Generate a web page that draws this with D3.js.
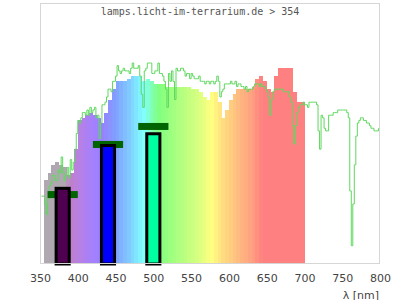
<!DOCTYPE html>
<html>
<head>
<meta charset="utf-8">
<title>lamps 354</title>
<style>
  body { margin: 0; background: #fff; }
  svg { display: block; }
</style>
</head>
<body>
<script src="https://d3js.org/d3.v7.min.js"></script>
<script>
// x axis ticks (nm)
var xTicks = [350, 400, 450, 500, 550, 600, 650, 700, 750, 800];

// lamp spectrum, 5 nm bins starting at each wavelength (relative %)
var lampWl = [355,360,365,370,375,380,385,390,395,400,405,410,415,420,425,430,435,440,445,450,
  455,460,465,470,475,480,485,490,495,500,505,510,515,520,525,530,535,540,545,550,
  555,560,565,570,575,580,585,590,595,600,605,610,615,620,625,630,635,640,645,650,
  655,660,665,670,675,680,685,690,695];
var lampVal = [32,35,38,39,38,37,34,35,44,55,56,57,58,57,56,54,58,63,67,70,
  70,70,71,72,72,72,70,71,70,69,69,69,68,68,68,68,68,68,68,67,
  67,66,64,63,66,66,62,56,59,63,65,67,67,67,67,68,71,72,70,67,
  66,72,75,75,75,75,66,62,62];

// reference daylight spectrum, 2 nm steps from 352 nm (relative %)
var sunStart = 352, sunStep = 2;
var sunVal = [26,26,23,19,25,30,31,34,34,32,32,36,35,41,35,32,34,37,33,40,
  36,39,44,50,55,54,56,58,58,57,59,57,60,58,59,60,56,57,48,54,
  61,61,62,64,67,67,66,70,70,72,76,74,73,74,75,74,74,74,73,75,
  77,75,75,75,76,72,65,60,74,75,77,77,77,73,73,74,74,77,73,73,
  72,70,67,60,73,70,74,70,63,75,74,74,75,75,74,72,73,73,71,73,
  72,71,71,71,72,70,70,70,69,70,70,69,70,70,69,70,72,70,64,66,
  67,69,69,69,69,70,69,69,70,68,69,69,68,68,67,68,66,67,67,67,
  68,69,69,69,68,69,68,68,67,66,64,57,63,66,67,67,67,67,67,67,
  66,66,66,66,64,62,53,46,53,58,60,61,61,62,61,61,60,62,62,62,
  62,62,61,51,44,57,56,52,51,51,57,57,57,58,58,58,59,59,59,59,
  59,59,58,56,28,7,23,38,49,54,55,56,56,55,55,54,54,53,52,52,
  51,51,51,52];

// LED channels: band [from, to] nm, bar height and target marker (relative %)
var ledFrom   = [370, 430, 490];
var ledTo     = [390, 450, 510];
var ledVal    = [29.0, 45.4, 49.9];
var ledTarget = [26.6, 45.8, 52.7];
var ledColor  = ['#500050', '#0000ff', '#00ffa0'];

var w = 400, h = 300;
var svg = d3.select('body').append('svg')
  .attr('width', w)
  .attr('height', h);

var x = d3.scaleLinear().domain([350, 800]).range([40, 380]);
var y = d3.scaleLinear().domain([0, 100]).range([264, 3]);

// pastel rainbow for the lamp bins
var spec = d3.scaleLinear()
  .domain([355, 384, 390, 400, 420, 432, 450, 470, 487, 495, 507, 530, 560, 577, 590, 610, 630, 645, 700])
  .range(['#b0a8b0','#b0a8b0','#c080c8','#b880e0','#a480ff','#9880ff','#80a0ff','#80d0ff','#80ffff','#80ffc8','#80ff80','#a8ff80','#d8ff80','#ffff80','#ffe080','#ffc080','#ffa080','#ff8080','#ff8080'])
  .clamp(true);

var lamp = lampWl.map(function(d, i) { return { wl: d, v: lampVal[i] }; });
svg.append('g').selectAll('rect')
  .data(lamp)
  .enter()
  .append('rect')
  .attr('x', d => x(d.wl))
  .attr('width', d => x(d.wl + 5) - x(d.wl) + 0.3)
  .attr('y', d => y(d.v))
  .attr('height', d => y(0) - y(d.v))
  .attr('fill', d => spec(d.wl + 2.5))
  .attr('shape-rendering', 'crispEdges');

var sun = sunVal.map(function(v, i) { return { wl: sunStart + i * sunStep, v: v }; });
svg.append('path')
  .datum(sun)
  .attr('fill', 'none')
  .attr('stroke', '#5fd85f')
  .attr('stroke-width', 1)
  .attr('d', d3.line().x(d => x(d.wl)).y(d => y(d.v)).curve(d3.curveStepAfter));

var leds = ledFrom.map(function(f, i) {
  return { from: f, to: ledTo[i], v: ledVal[i], t: ledTarget[i], c: ledColor[i] };
});

// target markers
svg.append('g').selectAll('rect')
  .data(leds)
  .enter()
  .append('rect')
  .attr('x', d => x((d.from + d.to) / 2 - 20))
  .attr('width', d => x(40) - x(0))
  .attr('y', d => y(d.t) - 3.5)
  .attr('height', 7)
  .attr('fill', '#006400');

// led bars
svg.append('g').selectAll('rect')
  .data(leds)
  .enter()
  .append('rect')
  .attr('x', d => x(d.from) + 1)
  .attr('width', d => x(d.to) - x(d.from) - 2)
  .attr('y', d => y(d.v))
  .attr('height', d => y(0) - y(d.v))
  .attr('fill', d => d.c)
  .attr('stroke', '#000')
  .attr('stroke-width', 3);

// frame
svg.append('rect')
  .attr('x', 40.5).attr('y', 3.5)
  .attr('width', 339).attr('height', 260)
  .attr('fill', 'none')
  .attr('stroke', '#d6d6d6')
  .attr('stroke-width', 1);

var axis = svg.append('g')
  .attr('transform', 'translate(0,264)')
  .call(d3.axisBottom(x).tickValues(xTicks).tickSize(0).tickPadding(10));
axis.select('.domain').remove();
axis.selectAll('text')
  .attr('font-family', 'DejaVu Sans')
  .attr('font-size', 11)
  .attr('fill', '#444');

svg.append('text')
  .attr('x', 379).attr('y', 299)
  .attr('text-anchor', 'end')
  .attr('font-family', 'DejaVu Sans')
  .attr('font-size', 11)
  .attr('fill', '#444')
  .text('λ [nm]');

svg.append('text')
  .attr('x', 200).attr('y', 15)
  .attr('text-anchor', 'middle')
  .attr('font-family', 'DejaVu Sans Mono')
  .attr('font-size', 10)
  .attr('fill', '#555')
  .text('lamps.licht-im-terrarium.de > 354');
</script>
</body>
</html>
